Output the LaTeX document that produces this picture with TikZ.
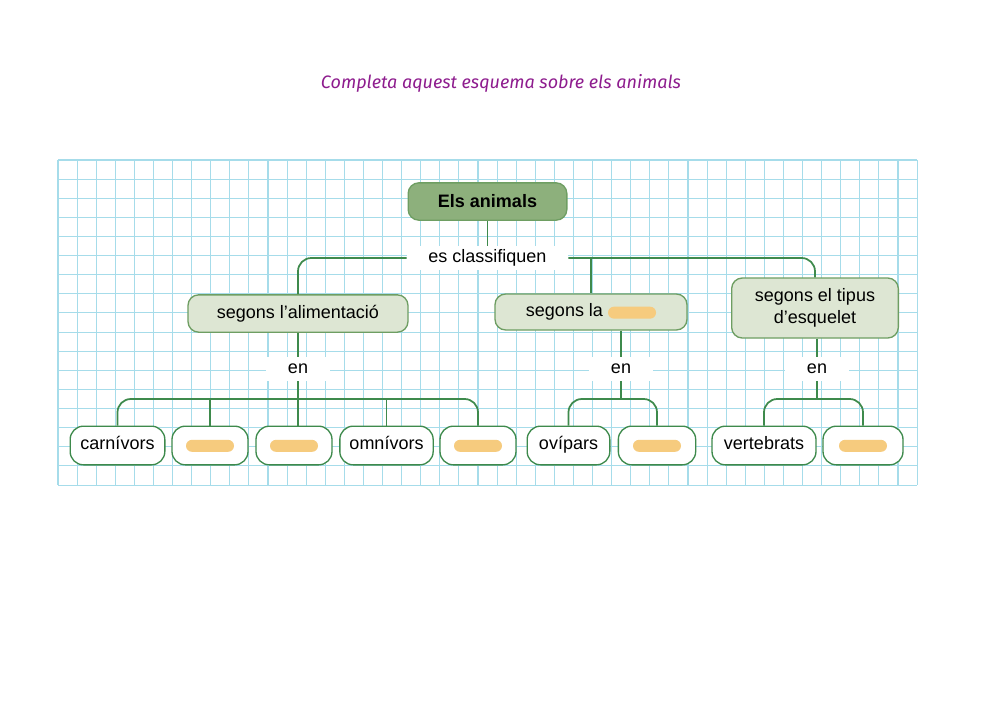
\documentclass[tikz,border=0pt]{standalone}
\usepackage{fontspec}
\setmainfont{Liberation Sans}
\newfontfamily\titlefont{Fira Sans}
\definecolor{gridc}{HTML}{A6DCEA}
\definecolor{lnc}{HTML}{3E8A4C}
\definecolor{boxd}{HTML}{6E9E62}
\definecolor{fillg}{HTML}{DDE6D3}
\definecolor{filld}{HTML}{8DB07C}
\definecolor{orng}{HTML}{F6CB7E}
\definecolor{purp}{HTML}{8E1C8E}
\begin{document}
\begin{tikzpicture}[x=0.75pt,y=-0.75pt,
  conn/.style={draw=lnc,line width=1.3pt},
  catbox/.style={draw=boxd,line width=1pt,fill=fillg,rounded corners=8pt,inner sep=0pt,font=\fontsize{13.5pt}{16pt}\selectfont,align=center},
  leaf/.style={draw=lnc,line width=1pt,fill=white,rounded corners=10pt,inner sep=0pt,minimum height=29pt,text height=6.5pt,text depth=0pt,font=\fontsize{13.5pt}{16pt}\selectfont},
  lbl/.style={fill=white,inner sep=0pt,minimum height=18pt,font=\fontsize{13.5pt}{16pt}\selectfont},
  pill/.style={fill=orng,rounded corners=4.5pt,minimum width=36pt,minimum height=9pt,inner sep=0pt}]
\useasboundingbox (0,0) rectangle (1000,707);
\fill[white] (0,0) rectangle (1000,707);
\node[font=\titlefont\itshape\fontsize{13.5pt}{16pt}\selectfont,text=purp] (title) at (501,83) {Completa aquest esquema sobre els animals};
% grid
\foreach \i in {0,...,45} \draw[gridc,line width=0.8pt] ({58+\i*19.09},160) -- ({58+\i*19.09},485);
\foreach \j in {0,...,17} \draw[gridc,line width=0.8pt] (58,{160+\j*19.12}) -- (917,{160+\j*19.12});
% nodes
\node[catbox,fill=filld,minimum width=119pt,minimum height=28pt,font=\bfseries\fontsize{13.5pt}{16pt}\selectfont] (root) at (487.5,201.5) {Els animals};
\node[lbl,minimum width=121pt] (cls) at (487.5,258) {es classifiquen};
\node[catbox,minimum width=165pt,minimum height=28pt] (alim) at (298,313.5) {segons l’alimentació};
\node[catbox,minimum width=144pt,minimum height=27pt] (la) at (591,312) {segons la \tikz[baseline=-3pt]\node[pill]{};};
\node[catbox,minimum width=125pt,minimum height=45pt] (esq) at (815,308) {segons el tipus\\d’esquelet};
\node[lbl,minimum width=48pt] (en1) at (298,369) {en};
\node[lbl,minimum width=48pt] (en2) at (621,369) {en};
\node[lbl,minimum width=48pt] (en3) at (817,369) {en};
\node[leaf,minimum width=71pt] (c1) at (117.5,445.5) {carnívors};
\node[leaf,minimum width=57pt] (c2) at (210,445.5) {\tikz[baseline=-3pt]\node[pill]{};};
\node[leaf,minimum width=57pt] (c3) at (294,445.5) {\tikz[baseline=-3pt]\node[pill]{};};
\node[leaf,minimum width=70pt] (c4) at (386.5,445.5) {omnívors};
\node[leaf,minimum width=57pt] (c5) at (478,445.5) {\tikz[baseline=-3pt]\node[pill]{};};
\node[leaf,minimum width=62pt] (c6) at (568.5,445.5) {ovípars};
\node[leaf,minimum width=58pt] (c7) at (657,445.5) {\tikz[baseline=-3pt]\node[pill]{};};
\node[leaf,minimum width=78pt] (c8) at (764,445.5) {vertebrats};
\node[leaf,minimum width=60pt] (c9) at (863,445.5) {\tikz[baseline=-3pt]\node[pill]{};};
% connectors
\draw[conn] (root.south) -- (cls.north);
\draw[conn,rounded corners=10pt] (cls.west) -| (alim.north);
\draw[conn,rounded corners=10pt] (cls.east) -| (esq.north);
\draw[conn] (la.north |- cls.east) -- (la.north);
\draw[conn] (alim.south) -- (en1.north);
\draw[conn] (la.south -| en2) -- (en2.north);
\draw[conn] (esq.south -| en3) -- (en3.north);
\draw[conn,rounded corners=10pt] (c1.north) -- (c1.north |- 0,399) -- (c5.north |- 0,399) -- (c5.north);
\draw[conn] (c2.north) -- (c2.north |- 0,399);
\draw[conn] (c4.north) -- (c4.north |- 0,399);
\draw[conn] (en1.south) -- (en1.south |- c3.north);
\draw[conn,rounded corners=10pt] (c6.north) -- (c6.north |- 0,399) -- (c7.north |- 0,399) -- (c7.north);
\draw[conn] (en2.south) -- (en2.south |- 0,399);
\draw[conn,rounded corners=10pt] (c8.north) -- (c8.north |- 0,399) -- (c9.north |- 0,399) -- (c9.north);
\draw[conn] (en3.south) -- (en3.south |- 0,399);
\end{tikzpicture}
\end{document}
